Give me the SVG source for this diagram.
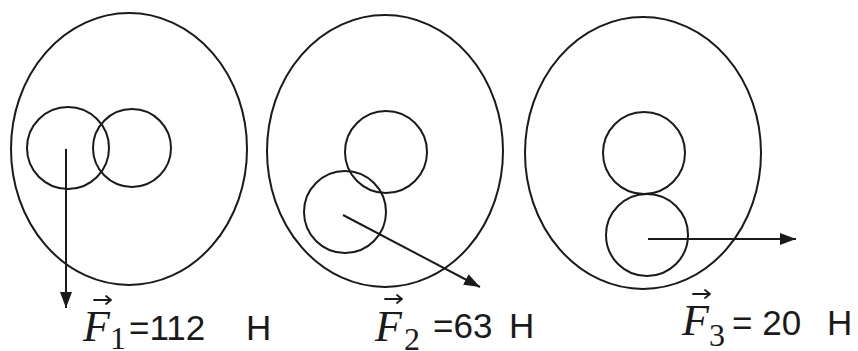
<svg xmlns="http://www.w3.org/2000/svg" width="858" height="351" viewBox="0 0 858 351">
<style>
.sh{fill:none;stroke:#1a1a1a;stroke-width:2}
.ar{fill:none;stroke:#1a1a1a;stroke-width:2;marker-end:url(#ah)}
.vec{fill:none;stroke:#1a1a1a;stroke-width:1.8;stroke-linecap:round;stroke-linejoin:round}
.F{font-family:"Liberation Serif",serif;font-style:italic;font-size:44px;fill:#1a1a1a}
.sub{font-family:"Liberation Serif",serif;font-size:32px;fill:#1a1a1a}
.t{font-family:"Liberation Sans",Arial,sans-serif;font-size:35px;fill:#1a1a1a}
</style>
<defs>
<marker id="ah" markerUnits="userSpaceOnUse" markerWidth="18" markerHeight="14" refX="16" refY="6" orient="auto">
<path d="M0,0 L16,6 L0,12 z" fill="#1a1a1a"/>
</marker>
</defs>
<rect width="858" height="351" fill="#fff"/>
<g id="body1">
<ellipse class="sh" cx="129" cy="149" rx="118" ry="136"/>
<circle class="sh" cx="68" cy="148" r="41"/>
<circle class="sh" cx="132" cy="148" r="39"/>
</g>
<g id="body2">
<ellipse class="sh" cx="385" cy="151" rx="118" ry="136"/>
<circle class="sh" cx="386" cy="152" r="41"/>
<circle class="sh" cx="345" cy="212" r="41"/>
</g>
<g id="body3">
<ellipse class="sh" cx="643" cy="153" rx="118" ry="136"/>
<circle class="sh" cx="644" cy="153" r="41"/>
<circle class="sh" cx="647" cy="235" r="41"/>
</g>
<g id="connectors">
<line class="ar" x1="66" y1="149" x2="66" y2="308"/>
<line class="ar" x1="343" y1="215" x2="480" y2="287"/>
<line class="ar" x1="648" y1="239" x2="796" y2="239"/>
</g>
<g id="label1">
<path class="vec" d="M94,300 H111 M106,296 L111,300 L106,304"/>
<text class="F" x="83" y="341">F</text>
<text class="sub" x="110" y="349">1</text>
<text class="t" x="129" y="340">=112</text>
<text class="t" x="246" y="340">H</text>
</g>
<g id="label2">
<path class="vec" d="M385,299 H402 M397,295 L402,299 L397,303"/>
<text class="F" x="375" y="341">F</text>
<text class="sub" x="404" y="350">2</text>
<text class="t" x="433" y="338">=63</text>
<text class="t" x="509" y="338">H</text>
</g>
<g id="label3">
<path class="vec" d="M693,294 H710 M705,290 L710,294 L705,298"/>
<text class="F" x="682" y="335">F</text>
<text class="sub" x="709" y="346">3</text>
<text class="t" x="732" y="335">= 20</text>
<text class="t" x="827" y="335">H</text>
</g>
</svg>
